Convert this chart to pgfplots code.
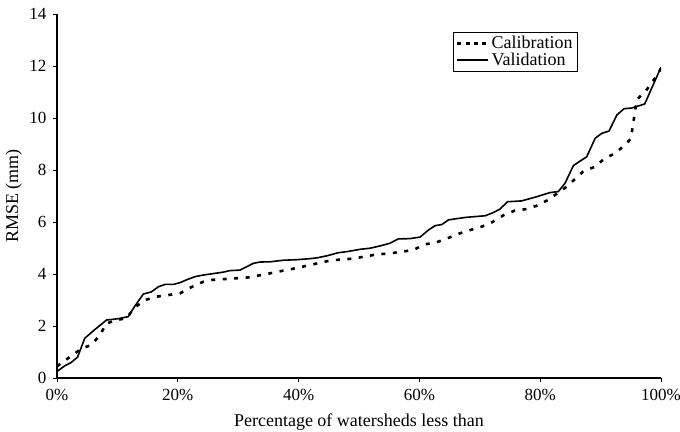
\documentclass[border=0pt]{standalone}
\usepackage{fontspec}
\setmainfont{Liberation Serif}
\usepackage{pgfplots}
\pgfplotsset{compat=1.18}
\begin{document}
\begin{tikzpicture}
\path[use as bounding box] (-57bp,-54bp) rectangle (623bp,378bp);
\begin{axis}[
  scale only axis, width=604bp, height=364bp,
  at={(0,0)}, anchor=south west,
  xmin=0, xmax=100, ymin=0, ymax=14,
  axis x line*=bottom, axis y line*=left,
  axis line style={line width=1.6bp},
  tick align=outside, major tick length=4bp,
  tick style={line width=0.8bp, black},
  xtick={0,20,40,60,80,100},
  xticklabels={0\%,20\%,40\%,60\%,80\%,100\%},
  ytick={0,2,4,6,8,10,12,14},
  /pgf/number format/assume math mode=true,
  font=\fontsize{18bp}{20bp}\selectfont,
  tick label style={font=\fontsize{17bp}{19bp}\selectfont},
  xticklabel style={yshift=-4bp},
  yticklabel style={xshift=-3bp},
  xlabel={Percentage of watersheds less than},
  ylabel={RMSE (mm)},
  x label style={at={(axis description cs:0.5,-0.122)}, anchor=center},
  y label style={at={(axis description cs:-0.0715,0.5)}, anchor=center},
  legend style={at={(0.8626,0.951)}, anchor=north east, draw=black, line width=0.8bp,
    inner xsep=3bp, inner ysep=2bp, row sep=-1bp, font=\fontsize{18bp}{19bp}\selectfont},
  legend cell align=left,
]
\addplot[black, line width=2.6bp, dash pattern=on 4bp off 7.5bp,
  legend image code/.code={\draw[black, line width=2.6bp, dash pattern=on 4bp off 4.3bp] (0bp,0bp) -- (31bp,0bp);}]
coordinates {
(0,0.45) (2.2,0.82) (4.1,1.14) (5.7,1.27) (7.1,1.65) (8.2,2.10) (9.9,2.23) (11.5,2.30)
(12.9,2.72) (14.6,3.00) (16.5,3.13) (18.4,3.19) (20.4,3.26) (22.3,3.50) (24.2,3.70)
(25.9,3.78) (28.1,3.81) (30.0,3.84) (31.7,3.87) (33.6,3.95) (35.8,4.05) (37.7,4.14)
(39.7,4.23) (41.6,4.33) (43.5,4.43) (45.5,4.53) (47.4,4.56) (49.3,4.60) (51.3,4.69)
(53.2,4.76) (55.1,4.79) (57.1,4.86) (59.0,4.92) (60.8,5.14) (62.6,5.20) (64.5,5.36)
(66.4,5.54) (68.4,5.69) (70.3,5.82) (72.2,6.01) (74.0,6.27) (75.8,6.44) (77.8,6.50)
(79.7,6.65) (81.3,6.85) (84.4,7.36) (87.1,7.94) (89.1,8.13) (90.7,8.45) (92.4,8.64)
(94.0,8.96) (95.0,9.20) (96.0,10.70) (97.6,11.08) (99.0,11.53) (100,11.90)
};
\addlegendentry{Calibration}
\addplot[black, line width=1.6bp,
  legend image code/.code={\draw[black, line width=1.6bp] (0bp,0bp) -- (31bp,0bp);}]
coordinates {
(0,0.25) (1.3,0.47) (2.3,0.59) (3.4,0.80) (4.6,1.53) (6.3,1.87) (8.2,2.23) (10.1,2.28)
(11.8,2.36) (12.9,2.77) (14.3,3.23) (15.6,3.31) (16.8,3.51) (17.9,3.60) (19.3,3.60)
(20.4,3.67) (21.7,3.80) (22.9,3.90) (24.2,3.96) (27.5,4.07) (28.6,4.13) (30.3,4.15)
(31.4,4.28) (32.5,4.41) (33.6,4.46) (35.3,4.47) (37.5,4.53) (39.7,4.55) (41.9,4.59)
(43.0,4.62) (44.7,4.70) (46.6,4.82) (48.0,4.86) (50.2,4.95) (51.8,4.99) (53.5,5.08)
(55.1,5.18) (56.5,5.35) (58.4,5.36) (60.1,5.42) (61.5,5.69) (62.6,5.86) (63.7,5.90)
(64.8,6.08) (66.2,6.13) (67.8,6.18) (70.9,6.24) (72.2,6.36) (73.3,6.49) (74.6,6.78)
(76.9,6.81) (79.4,6.97) (81.6,7.13) (83.0,7.17) (84.1,7.49) (85.5,8.17) (87.7,8.51)
(89.1,9.22) (90.2,9.41) (91.4,9.50) (92.7,10.12) (93.9,10.36) (95.1,10.38) (97.3,10.54)
(100,11.95)
};
\addlegendentry{Validation}
\end{axis}
\end{tikzpicture}
\end{document}
